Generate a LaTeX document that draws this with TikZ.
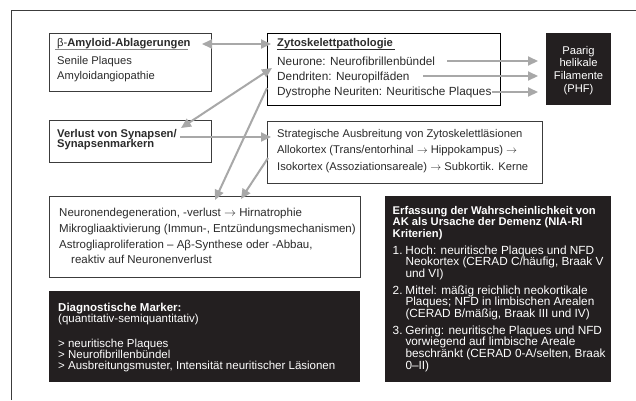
\documentclass[tikz,border=0pt]{standalone}
\usepackage{fontspec}
\setmainfont{Liberation Sans}
\usetikzlibrary{arrows.meta}
\definecolor{ink}{HTML}{2B2B2B}
\definecolor{blk}{HTML}{231F20}
\definecolor{arr}{HTML}{A8A8A8}
\definecolor{frm}{HTML}{3C3C3C}
\newcommand{\Ln}[1]{\hbox{#1}}
\newcommand{\Cn}[1]{\hbox to 62pt{\hfil#1\hfil}}
\newcommand{\Blk}[2]{\vtop{\baselineskip=#1\lineskiplimit=-100pt\lineskip=0pt\relax #2}}
\newcommand{\Num}[2]{\hbox{\hbox to 12.8pt{#1\hfil}#2}}
\newcommand{\Hng}[1]{\hbox{\hskip12.8pt #1}}
\begin{document}
\begin{tikzpicture}[x=1pt,y=-1pt,
  box/.style={draw=frm, line width=0.9pt, fill=white, inner sep=0pt, anchor=north west},
  blkbox/.style={fill=blk, inner sep=0pt, anchor=north west},
  txt/.style={anchor=base west, inner sep=0pt, text=ink, font=\fontsize{11.2}{13}\selectfont},
  wtxt/.style={txt, text=white},
  conn/.style={draw=arr, line width=2pt, -{Triangle[length=10pt,width=9pt]}},
  dconn/.style={draw=arr, line width=2pt, {Triangle[length=10pt,width=9pt]}-{Triangle[length=10pt,width=9pt]}},
]
\useasboundingbox (0,0) rectangle (636,400);
\fill[white] (0,0) rectangle (636,400);
\draw[frm, line width=0.9pt] (11,400) -- (11,10.5) -- (636,10.5);

% boxes
\node[box, minimum width=162pt, minimum height=58pt] (amy) at (49,33) {};
\node[box, draw=black, minimum width=233pt, minimum height=72pt] (zyto) at (267,33) {};
\node[blkbox, minimum width=65pt, minimum height=72pt] (phf) at (546,33) {};
\node[box, minimum width=162pt, minimum height=42pt] (syn) at (49,120) {};
\node[box, minimum width=275pt, minimum height=62pt] (spread) at (267,121) {};
\node[box, minimum width=311pt, minimum height=81pt] (neuro) at (49,196) {};
\node[blkbox, minimum width=311pt, minimum height=91pt] (diag) at (49,291) {};
\node[blkbox, minimum width=226pt, minimum height=186pt] (nia) at (385,196) {};

% texts
\node[txt] (amyT) at (57,46) {\Blk{15pt}{\Ln{β-\textbf{Amyloid-Ablagerungen}}\vskip3.5pt\Ln{Senile Plaques}\Ln{Amyloidangiopathie}}};
\draw[draw=arr!80!black, line width=0.8pt] (55,49.8) -- (188,49.8);

\node[txt] (zytoT) at (277,46) {\Blk{15.2pt}{\Ln{\textbf{Zytoskelettpathologie}}\vskip3.8pt\fontsize{11.8}{15.2}\selectfont\Ln{Neurone: Neurofibrillenbündel}\Ln{Dendriten: Neuropilfäden}\Ln{Dystrophe Neuriten: Neuritische Plaques}}};
\draw[draw=ink, line width=0.8pt] (277,49.8) -- (395,49.8);

\node[wtxt, anchor=base] (phfT) at (578.5,54) {\Blk{12.7pt}{\Cn{Paarig}\Cn{helikale}\Cn{Filamente}\Cn{(PHF)}}};

\node[txt, font=\fontsize{11.2}{13}\selectfont\bfseries] (synT) at (57,137.3) {\Blk{10.6pt}{\Ln{Verlust von Synapsen/}\Ln{Synapsenmarkern}}};

\node[txt] (spreadT) at (277,137) {\Blk{16.5pt}{\Ln{Strategische Ausbreitung von Zytoskelettläsionen}\Ln{Allokortex (Trans/entorhinal $\rightarrow$ Hippokampus) $\rightarrow$}\Ln{Isokortex (Assoziationsareale) $\rightarrow$ Subkortik. Kerne}}};

\node[txt, font=\fontsize{11.5}{13}\selectfont] (neuroT) at (59,216.5) {\Blk{15.8pt}{\Ln{Neuronendegeneration, -verlust $\rightarrow$ Hirnatrophie}\Ln{Mikrogliaaktivierung (Immun-, Entzündungsmechanismen)}\Ln{Astrogliaproliferation – Aβ-Synthese oder -Abbau,}\Ln{\hskip12pt reaktiv auf Neuronenverlust}}};

\node[wtxt, font=\fontsize{11.5}{13}\selectfont] (diagT) at (58,311) {\Blk{11.3pt}{\Ln{\textbf{Diagnostische Marker:}}\Ln{(quantitativ-semiquantitativ)}\vskip13.4pt\Ln{> neuritische Plaques}\Ln{> Neurofibrillenbündel}\Ln{> Ausbreitungsmuster, Intensität neuritischer Läsionen}}};

\node[wtxt, font=\fontsize{11.8}{13}\selectfont] (niaT) at (392.5,214) {\Blk{11.6pt}{%
\Ln{\fontsize{11.2}{13}\selectfont\bfseries Erfassung der Wahrscheinlichkeit von}%
\Ln{\fontsize{11.2}{13}\selectfont\bfseries AK als Ursache der Demenz (NIA-RI}%
\Ln{\fontsize{11.2}{13}\selectfont\bfseries Kriterien)}\vskip5.3pt
\Num{1.}{Hoch: neuritische Plaques und NFD}\Hng{Neokortex (CERAD C/häufig, Braak V}\Hng{und VI)}\vskip5.3pt
\Num{2.}{Mittel: mäßig reichlich neokortikale}\Hng{Plaques; NFD in limbischen Arealen}\Hng{(CERAD B/mäßig, Braak III und IV)}\vskip5.3pt
\Num{3.}{Gering: neuritische Plaques und NFD}\Hng{vorwiegend auf limbische Areale}\Hng{beschränkt (CERAD 0-A/selten, Braak}\Hng{0–II)}}};

% connector end points
\coordinate (a1s) at (202,44);  \coordinate (a1e) at (271,44);
\coordinate (a2s) at (272,68);  \coordinate (a2e) at (181,128);
\coordinate (a3s) at (180,137); \coordinate (a3e) at (271,137);
\coordinate (a4s) at (267,88);  \coordinate (a4e) at (215,200);
\coordinate (a5s) at (268,158); \coordinate (a5e) at (241,199);
\coordinate (p1s) at (447,61);  \coordinate (p1e) at (538,61);
\coordinate (p2s) at (423,76);  \coordinate (p2e) at (538,76);
\coordinate (p3s) at (492,92);  \coordinate (p3e) at (538,92);

% connectors
\draw[dconn] (a1s) -- (a1e);
\draw[dconn] (a2s) -- (a2e);
\draw[conn] (a3s) -- (a3e);
\draw[conn] (a4s) -- (a4e);
\draw[conn] (a5s) -- (a5e);
\draw[conn] (p1s) -- (p1e);
\draw[conn] (p2s) -- (p2e);
\draw[conn] (p3s) -- (p3e);
\end{tikzpicture}
\end{document}
